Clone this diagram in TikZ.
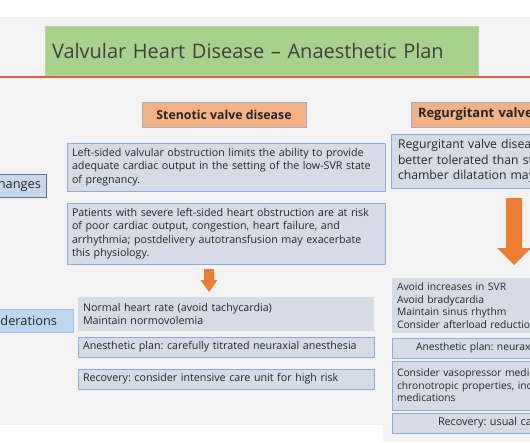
\documentclass[tikz,border=0pt]{standalone}
\usepackage{fontspec}
\setmainfont{Open Sans}
\definecolor{bgc}{HTML}{F3F3F3}
\definecolor{titlegreen}{HTML}{A9D18E}
\definecolor{titletext}{HTML}{404040}
\definecolor{rulecol}{HTML}{DC633A}
\definecolor{hdrfill}{HTML}{F4B183}
\definecolor{hdrline}{HTML}{9DAFCF}
\definecolor{boxfill}{HTML}{D6DCE5}
\definecolor{boxline}{HTML}{8FAADC}
\definecolor{chgfill}{HTML}{C8D8EC}
\definecolor{chgline}{HTML}{5F7088}
\definecolor{consfill}{HTML}{BDD7EE}
\definecolor{consline}{HTML}{9DC3E6}
\definecolor{arrowcol}{HTML}{ED7D31}
\definecolor{textdark}{HTML}{262626}
\frenchspacing
\begin{document}
\begin{tikzpicture}[x=1pt,y=-1pt,
  every node/.style={inner sep=0pt, outer sep=0pt},
  titlebox/.style={fill=titlegreen, draw=titlegreen!85!white, line width=0.5pt, text=titletext, align=left,
    font={\fontsize{20}{24}\selectfont}, inner xsep=7pt},
  hdr/.style={fill=hdrfill, draw=hdrline, line width=0.6pt, text=textdark,
    font={\fontsize{12.3}{14}\selectfont\bfseries}},
  bluebox/.style={fill=boxfill, draw=boxline, line width=0.8pt, text=textdark, align=left,
    font={\fontsize{10.7}{13.5}\selectfont}, inner xsep=5pt},
  plainbox/.style={fill=boxfill, text=textdark, align=left,
    font={\fontsize{10.7}{13.5}\selectfont}, inner xsep=5pt},
  rbox/.style={fill=boxfill, draw=boxline, line width=0.8pt, text=textdark, align=left, anchor=west,
    font={\fontsize{10.3}{12.5}\selectfont}, inner xsep=5pt, text width=220pt},
  sidelbl/.style={text=textdark, anchor=east, font={\fontsize{12.8}{15}\selectfont}, minimum height=23pt},
  arrowfill/.style={fill=arrowcol}
]
\useasboundingbox (0,0) rectangle (530,442);
\clip (0,0) rectangle (530,442);
% background
\fill[white] (0,0) rectangle (530,442);
\fill[bgc] (0,17) rectangle (530,425);
\fill[bgc] (383,425) rectangle (530,442);

% title
\node[titlebox, text width=419pt, minimum height=49pt] (title) at (261.5,50.5) {Valvular Heart Disease – Anaesthetic Plan};
\coordinate (ruleL) at (0,77);
\coordinate (ruleR) at (530,77);
\draw[rulecol, line width=1.6pt] (ruleL) -- (ruleR);

% headers
\node[hdr, minimum width=164pt, minimum height=25pt] (sten) at (224,114.5) {Stenotic valve disease};
\node[hdr, font={\fontsize{12.9}{14}\selectfont\bfseries}, anchor=west, align=left, text width=186pt, inner xsep=7pt, minimum height=25pt] (regh) at (411,114.5) {Regurgitant valve disease};

% side labels
\node[sidelbl, fill=chgfill, draw=chgline, line width=0.8pt, inner xsep=5pt] (chg) at (46,185.5) {Changes};
\node[sidelbl, fill=consfill, draw=consline, line width=0.8pt, inner xsep=16pt, minimum height=23pt] (cons) at (73,320.5) {Considerations};

% stenotic column
\node[bluebox, text width=308pt, minimum height=48pt] (b1) at (226,167)
  {Left-sided valvular obstruction limits the ability to provide\\adequate cardiac output in the setting of the low-SVR state\\of pregnancy.};
\node[bluebox, text width=308pt, minimum height=61pt] (b2) at (226,233.5)
  {Patients with severe left-sided heart obstruction are at risk\\of poor cardiac output, congestion, heart failure, and\\arrhythmia; postdelivery autotransfusion may exacerbate\\this physiology.};
\fill[arrowfill] (204,269) -- (214,269) -- (214,280) -- (217.5,280) -- (209,292) -- (200.5,280) -- (204,280) -- cycle;
\node[plainbox, text width=286pt, minimum height=34pt] (b3) at (226,314)
  {Normal heart rate (avoid tachycardia)\\Maintain normovolemia};
\node[bluebox, text width=286pt, minimum height=20pt] (b4) at (226,347)
  {Anesthetic plan: carefully titrated neuraxial anesthesia};
\node[bluebox, text width=286pt, minimum height=20pt] (b5) at (226,379)
  {Recovery: consider intensive care unit for high risk};

% regurgitant column
\node[rbox, font={\fontsize{12.2}{15.5}\selectfont}, inner xsep=7pt, minimum height=54pt] (r1) at (391,161)
  {Regurgitant valve disease is\\better tolerated than stenotic\\chamber dilatation may};
\fill[arrowfill] (506,198) -- (522,198) -- (522,248) -- (531,248) -- (514,265) -- (497,248) -- (506,248) -- cycle;
\node[rbox, draw=none, minimum height=55pt] (r2) at (392,305.5)
  {Avoid increases in SVR\\Avoid bradycardia\\Maintain sinus rhythm\\Consider afterload reduction};
\node[rbox, inner xsep=24pt, minimum height=20pt] (r3) at (392,348)
  {Anesthetic plan: neuraxial};
\node[rbox, minimum height=49pt] (r4) at (392,385.5)
  {Consider vasopressor medications\\chronotropic properties, inotropic\\medications};
\node[rbox, font={\fontsize{10.8}{12.5}\selectfont}, inner xsep=46pt, minimum height=20pt] (r5) at (392,423)
  {Recovery: usual care};
\end{tikzpicture}
\end{document}
